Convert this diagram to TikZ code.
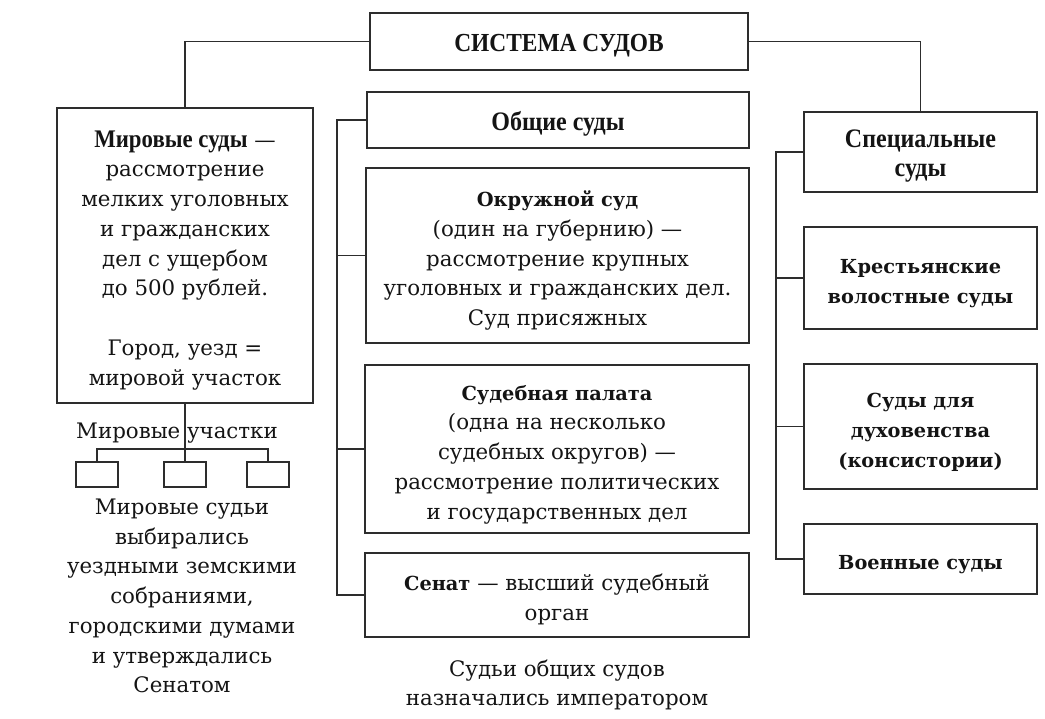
\documentclass[tikz,border=0pt]{standalone}
\usepackage{fontspec}
\setmainfont{DejaVu Serif}
\newfontfamily\narrowfont{Liberation Serif}[FakeStretch=0.9]
\usepackage{tikz}
\usetikzlibrary{positioning}
\definecolor{sdedge}{RGB}{45,45,45}
\definecolor{sdink}{RGB}{20,20,20}
\newcommand{\sdtext}{\fontsize{16}{22.3}\selectfont}
\newcommand{\sdstrut}{\rule{0pt}{19.5pt}}
\newcommand{\sdhead}[1]{{\narrowfont\bfseries\fontsize{20}{22.3}\selectfont #1}}
\newcommand{\sdbold}[1]{{\bfseries\fontsize{14.5}{22.3}\selectfont #1}}
\tikzset{
  sdsize/.style 2 args={minimum width=#1*0.75pt, minimum height=#2*0.75pt},
  sdbox/.style={
    draw=sdedge, line width=1pt, align=center, inner sep=2pt,
    text=sdink, font=\sdtext
  },
  sdslot/.style={draw=sdedge, line width=0.9pt, sdsize={42}{25}, inner sep=0pt},
  sdlink/.style={draw=sdedge, line width=0.9pt},
  sdnote/.style={align=center, text=sdink, font=\sdtext},
  every picture/.append style={line join=miter}
}

\begin{document}
\begin{tikzpicture}[x=0.75pt, y=-0.75pt]
  \useasboundingbox (0,0) rectangle (1045,718);
  % top of the scheme
  \node[sdbox, sdsize={378}{57}] (title) at (559,41.5)
    {\sdstrut{\narrowfont\bfseries\fontsize{19.5}{22.3}\selectfont СИСТЕМА СУДОВ}};
  % left column
  \node[sdbox, sdsize={256}{295}] (mir) at (185,255.5)
    {\sdstrut{\narrowfont\bfseries\fontsize{19}{22.3}\selectfont Мировые суды} —\\рассмотрение\\мелких уголовных\\и гражданских\\дел с ущербом\\до 500 рублей.\\[22.3pt]Город, уезд =\\мировой участок};
  \node[sdnote] (mu) at (177,433) {Мировые участки};
  \node[sdslot] (sb1) at (97,474.5) {};
  \node[sdslot] (sb2) at (185,474.5) {};
  \node[sdslot] (sb3) at (268,474.5) {};
  \coordinate (bus) at (185,449);
  \node[sdnote] (mjnote) at (182,596)
    {Мировые судьи\\выбирались\\уездными земскими\\собраниями,\\городскими думами\\и утверждались\\Сенатом};
  % middle column
  \node[sdbox, sdsize={382}{56}] (obsh) at (558,120) {\sdstrut\sdhead{Общие суды}};
  \node[sdbox, sdsize={383}{175}] (okr) at (557.5,255.5)
    {\sdstrut\sdbold{Окружной суд}\\(один на губернию) —\\рассмотрение крупных\\уголовных и гражданских дел.\\Суд присяжных};
  \node[sdbox, sdsize={384}{168}] (pal) at (557,449)
    {\sdstrut\sdbold{Судебная палата}\\(одна на несколько\\судебных округов) —\\рассмотрение политических\\и государственных дел};
  \node[sdbox, sdsize={384}{84}] (sen) at (557,595)
    {\sdstrut\sdbold{Сенат} — высший судебный\\орган};
  \node[sdnote] (onote) at (557,685) {Судьи общих судов\\назначались императором};
  \coordinate (cbus) at (337,0);
  % right column
  \node[sdbox, sdsize={233}{80}] (spec) at (920.5,152)
    {\sdstrut\sdhead{Специальные}\\\sdhead{суды}};
  \node[sdbox, sdsize={233}{102}] (krest) at (920.5,278)
    {\sdstrut\sdbold{Крестьянские}\\\sdbold{волостные суды}};
  \node[sdbox, sdsize={233}{125}] (dukh) at (920.5,426.5)
    {\sdstrut\sdbold{Суды для}\\\sdbold{духовенства}\\\sdbold{(консистории)}};
  \node[sdbox, sdsize={233}{70}] (voen) at (920.5,559) {\sdstrut\sdbold{Военные суды}};
  \coordinate (rbus) at (776,0);
  % connectors
  \draw[sdlink] (title.west) -| (mir.north);
  \draw[sdlink] (title.east) -| (spec.north);
  \draw[sdlink] (mir.south) -- (sb2.north);
  \draw[sdlink] (sb1.north) |- (bus) -| (sb3.north);
  \draw[sdlink] (obsh.west) -- (obsh.west -| cbus) |- (sen.west);
  \draw[sdlink] (okr.west) -- (okr.west -| cbus);
  \draw[sdlink] (pal.west) -- (pal.west -| cbus);
  \draw[sdlink] (spec.west) -- (spec.west -| rbus) |- (voen.west);
  \draw[sdlink] (krest.west) -- (krest.west -| rbus);
  \draw[sdlink] (dukh.west) -- (dukh.west -| rbus);
\end{tikzpicture}
\end{document}
